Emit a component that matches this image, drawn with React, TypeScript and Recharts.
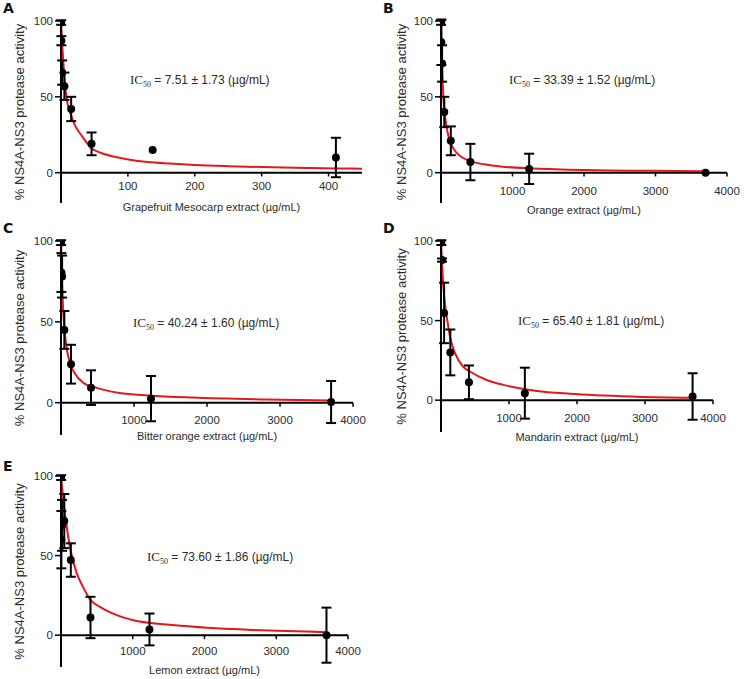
import React from "react";
import {
  ComposedChart,
  Line,
  Scatter,
  ErrorBar,
  XAxis,
  YAxis,
  ReferenceLine,
} from "recharts";

const FONT = '"Liberation Sans", Arial, sans-serif';
const TEXT = "#2b2b2b";

// shared y axis
const yTicks = [0, 50, 100];
const yDomain = [-20, 100];
const yTitle = "% NS4A-NS3 protease activity";

// A - grapefruit mesocarp
const grapefruitConc = [0.19, 0.56, 1.69, 5.08, 15.2, 45.7, 137, 411];
const grapefruitActivity = [99, 87, 66, 57, 42, 19, 15, 10];
const grapefruitSd = [1.5, 3, 8, 9, 8, 7.5, 0, 13];
const grapefruitFitX = [0, 1, 2, 3, 5, 7.5, 10, 15, 20, 30, 46, 60, 80, 103, 130, 163, 200, 250, 300, 350, 412, 450];
const grapefruitFitY = [100, 92, 83, 76, 63, 52, 45, 38, 32, 25, 16, 13, 10.5, 8.5, 7, 6, 5.1, 4.3, 3.7, 3.2, 2.8, 2.6];
const grapefruitTicks = [100, 200, 300, 400];

// B - orange
const orangeConc = [1.7, 5.1, 15.2, 45.7, 137, 411, 1233, 3700];
const orangeActivity = [99, 86, 72, 40, 21, 7, 2.5, 0];
const orangeSd = [1.5, 15, 12, 10, 9.5, 12, 10, 0];
const orangeFitX = [0, 10, 20, 33, 50, 75, 100, 150, 220, 300, 400, 600, 900, 1300, 2000, 3000, 3700];
const orangeFitY = [100, 80, 64, 50, 40, 31, 25, 18, 13, 10, 7.8, 5.5, 3.8, 2.8, 1.8, 1.2, 1];

// C - bitter orange
const bitterConc = [1.7, 5.1, 15.2, 45.7, 137, 411, 1233, 3700];
const bitterActivity = [99, 80.5, 78, 45, 23.8, 9.3, 2.5, 0.4];
const bitterSd = [1.5, 12, 13, 11.7, 12, 10.7, 14, 13];
const bitterFitX = [0, 10, 20, 40, 60, 80, 120, 190, 300, 500, 800, 1200, 1800, 2800, 3700];
const bitterFitY = [100, 82, 67, 50, 40, 33, 25, 18, 12.5, 9, 6, 4.5, 3.2, 2, 1.3];

// D - mandarin
const mandarinConc = [5.1, 15.2, 45.7, 137, 411, 1233, 3700];
const mandarinActivity = [99, 88, 54.8, 30, 11.2, 4.4, 2.3];
const mandarinSd = [1.5, 1, 19, 14.4, 10.6, 16, 14.6];
const mandarinFitX = [0, 20, 45, 65, 93, 132, 206, 328, 426, 672, 916, 1407, 1897, 2878, 3711];
const mandarinFitY = [100, 82, 66, 58, 50, 40, 29.5, 21, 18, 12.7, 9.6, 5.8, 4, 2.2, 1.5];

// E - lemon
const lemonConc = [1.7, 5.1, 15.2, 45.7, 137, 411, 1233, 3700];
const lemonActivity = [99, 60, 69, 71.7, 47.2, 11.1, 3.6, 0];
const lemonSd = [1.5, 18, 16, 17, 10.5, 13, 10, 17.3];
const lemonFitX = [0, 15, 30, 50, 75, 100, 135, 219, 311, 404, 544, 777, 1008, 1474, 2404, 3700];
const lemonFitY = [100, 93, 86, 78, 70, 62, 53, 39, 30, 22.5, 17.8, 12.6, 9.4, 6.7, 3.8, 1.9];

const extractTicks = [1000, 2000, 3000, 4000];

const toPoints = (xs: number[], ys: number[], sd?: number[]) =>
  xs.map((x, i) => ({ x, y: ys[i], sd: sd ? sd[i] : undefined }));

const panels = [
  {
    letter: "A",
    xTitle: "Grapefruit Mesocarp extract (µg/mL)",
    ic50: "7.51 ± 1.73",
    xDomain: [0, 450],
    xTicks: grapefruitTicks,
    points: toPoints(grapefruitConc, grapefruitActivity, grapefruitSd),
    fit: toPoints(grapefruitFitX, grapefruitFitY),
    box: { left: 0, top: 0, width: 370, height: 222 },
    plot: { left: 61, top: 21, right: 362, bottom: 203 },
    titleY: 207,
    labelX: 19,
    tickGap: 5,
    ic: { x: 130, y: 80 },
  },
  {
    letter: "B",
    xTitle: "Orange extract (µg/mL)",
    ic50: "33.39 ± 1.52",
    xDomain: [0, 4000],
    xTicks: extractTicks,
    points: toPoints(orangeConc, orangeActivity, orangeSd),
    fit: toPoints(orangeFitX, orangeFitY),
    box: { left: 370, top: 0, width: 377, height: 222 },
    plot: { left: 71, top: 21, right: 357, bottom: 203 },
    titleY: 210,
    labelX: 31,
    tickGap: 10,
    ic: { x: 509, y: 80 },
  },
  {
    letter: "C",
    xTitle: "Bitter orange extract (µg/mL)",
    ic50: "40.24 ± 1.60",
    xDomain: [0, 4000],
    xTicks: extractTicks,
    points: toPoints(bitterConc, bitterActivity, bitterSd),
    fit: toPoints(bitterFitX, bitterFitY),
    box: { left: 0, top: 220, width: 370, height: 225 },
    plot: { left: 61, top: 21, right: 353, bottom: 215 },
    titleY: 216,
    labelX: 19,
    tickGap: 9,
    ic: { x: 133, y: 323 },
  },
  {
    letter: "D",
    xTitle: "Mandarin extract (µg/mL)",
    ic50: "65.40 ± 1.81",
    xDomain: [0, 4000],
    xTicks: extractTicks,
    points: toPoints(mandarinConc, mandarinActivity, mandarinSd),
    fit: toPoints(mandarinFitX, mandarinFitY),
    box: { left: 370, top: 220, width: 377, height: 225 },
    plot: { left: 71, top: 21, right: 343, bottom: 212 },
    titleY: 217,
    labelX: 31,
    tickGap: 10,
    ic: { x: 518, y: 321 },
  },
  {
    letter: "E",
    xTitle: "Lemon extract (µg/mL)",
    ic50: "73.60 ± 1.86",
    xDomain: [0, 4000],
    xTicks: extractTicks,
    points: toPoints(lemonConc, lemonActivity, lemonSd),
    fit: toPoints(lemonFitX, lemonFitY),
    box: { left: 0, top: 440, width: 370, height: 239 },
    plot: { left: 61, top: 36, right: 348, bottom: 227 },
    titleY: 230,
    labelX: 19,
    tickGap: 8,
    ic: { x: 147, y: 557 },
  },
];

const Dot = (props: any) => {
  const { cx, cy } = props;
  if (cx == null || cy == null) return null;
  return <circle cx={cx} cy={cy} r={4} fill="#000" />;
};

const Panel = ({ p }: { p: (typeof panels)[number] }) => {
  const { box, plot } = p;
  return (
    <div style={{ position: "absolute", left: box.left, top: box.top }}>
      <ComposedChart
        width={box.width}
        height={box.height}
        margin={{ top: plot.top, right: box.width - plot.right, bottom: 0, left: 0 }}
        style={{ fontFamily: FONT }}
      >
        <XAxis
          type="number"
          dataKey="x"
          domain={p.xDomain}
          allowDataOverflow
          axisLine={false}
          tickLine={false}
          tick={false}
          height={box.height - plot.bottom}
          label={{
            value: p.xTitle,
            position: "insideBottom",
            offset: box.height - p.titleY - 4,
            fill: TEXT,
            fontSize: 11,
          }}
        />
        <YAxis
          type="number"
          domain={yDomain}
          ticks={yTicks}
          interval={0}
          allowDataOverflow
          width={plot.left}
          axisLine={{ stroke: "#000", strokeWidth: 2 }}
          tickLine={{ stroke: "#000", strokeWidth: 1.5 }}
          tickSize={6}
          tick={{ fill: TEXT, fontSize: 11.5 }}
          label={{
            value: yTitle,
            angle: -90,
            position: "insideLeft",
            offset: p.labelX,
            fill: TEXT,
            fontSize: 13,
            style: { textAnchor: "middle" },
          }}
        />
        <ReferenceLine y={0} stroke="#000" strokeWidth={2} />
        {p.xTicks.map((t) => (
          <ReferenceLine
            key={t}
            segment={[
              { x: t, y: 0 },
              { x: t, y: -2.5 },
            ]}
            stroke="#000"
            strokeWidth={1.5}
            label={{ value: String(t), position: "bottom", fill: TEXT, fontSize: 11.5, offset: p.tickGap }}
          />
        ))}
        <Line
          data={p.fit}
          dataKey="y"
          type="monotone"
          stroke="#e3171c"
          strokeWidth={2}
          dot={false}
          activeDot={false}
          isAnimationActive={false}
        />
        <Scatter data={p.points} dataKey="y" fill="#000" shape={Dot} isAnimationActive={false}>
          <ErrorBar dataKey="sd" direction="y" width={5} stroke="#000" strokeWidth={2} />
        </Scatter>
      </ComposedChart>
    </div>
  );
};

export default function App() {
  return (
    <div
      style={{
        position: "absolute",
        left: 0,
        top: 0,
        width: 747,
        height: 679,
        background: "#fff",
        overflow: "hidden",
      }}
    >
      {panels.map((p) => (
        <Panel key={p.letter} p={p} />
      ))}
      {panels.map((p) => (
        <div
          key={"l" + p.letter}
          style={{
            position: "absolute",
            left: p.letter === "A" || p.letter === "C" || p.letter === "E" ? 3 : 383,
            top: p.box.top + (p.letter === "E" ? 18 : 0),
            fontFamily: '"DejaVu Sans", Verdana, sans-serif',
            fontWeight: "bold",
            fontSize: 14,
            color: "#111",
          }}
        >
          {p.letter}
        </div>
      ))}
      {panels.map((p) => (
        <div
          key={"ic" + p.letter}
          style={{
            position: "absolute",
            left: p.ic.x,
            top: p.ic.y - 8,
            fontFamily: FONT,
            fontSize: 12,
            color: TEXT,
            whiteSpace: "nowrap",
            lineHeight: "16px",
          }}
        >
          <span style={{ fontFamily: '"Liberation Serif", serif', fontSize: 13 }}>IC</span>
          <sub style={{ fontSize: 8, fontFamily: '"Liberation Serif", serif', color: TEXT }}>50</sub> = {p.ic50} (µg/mL)
        </div>
      ))}
    </div>
  );
}
